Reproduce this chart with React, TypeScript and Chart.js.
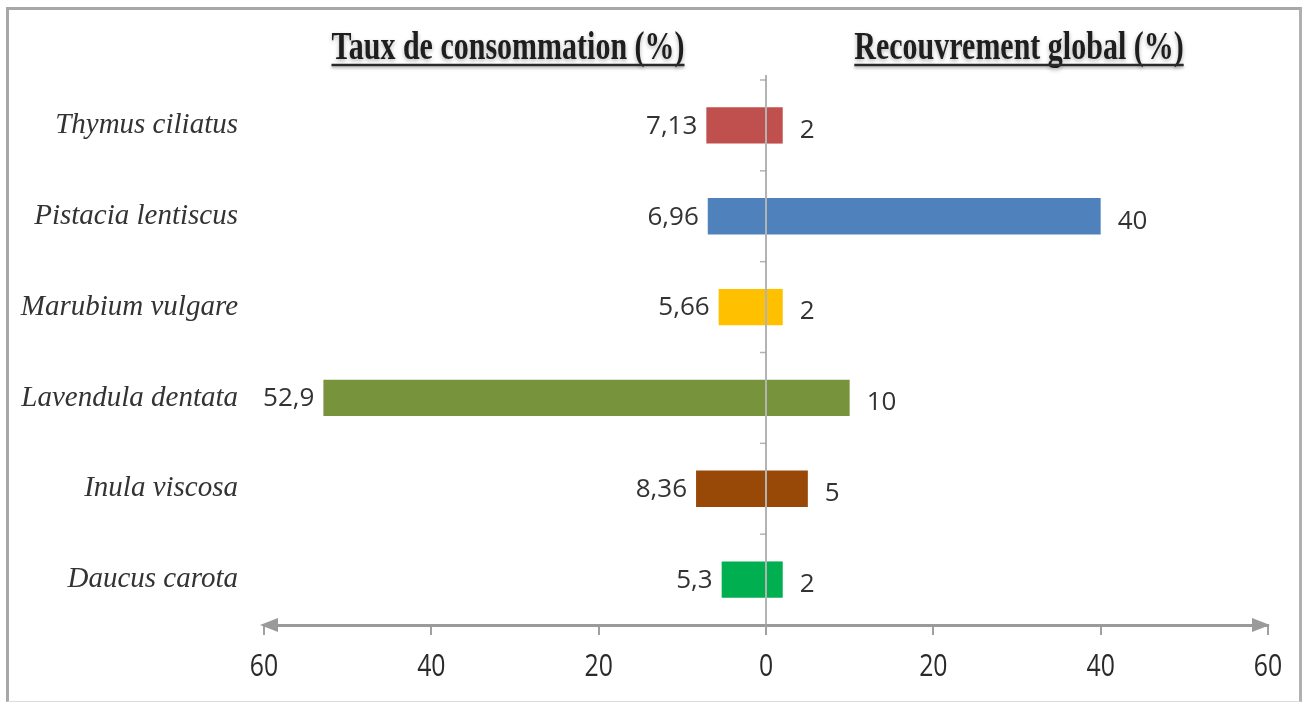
import React, { useEffect, useRef } from "react";
import { Chart, registerables } from "chart.js";
Chart.register(...registerables);

const categories = [
  "Thymus ciliatus",
  "Pistacia lentiscus",
  "Marubium vulgare",
  "Lavendula dentata",
  "Inula viscosa",
  "Daucus carota",
];
const consumption = [7.13, 6.96, 5.66, 52.9, 8.36, 5.3];
const coverage = [2, 40, 2, 10, 5, 2];
const barColors = ["#C0504D", "#4F81BD", "#FFC000", "#77933C", "#984807", "#00B050"];
const xTicks = [-60, -40, -20, 0, 20, 40, 60];
const titles = ["Taux de consommation (%)", "Recouvrement global (%)"];

const fmt = (v: number) => String(v).replace(".", ",");

const decorPlugin = {
  id: "decor",
  afterDraw(chart: any) {
    const ctx = chart.ctx as CanvasRenderingContext2D;
    const x = chart.scales.x;
    const y = chart.scales.y;
    const area = chart.chartArea;
    const yb = area.bottom;

    // arrowheads on x axis
    ctx.save();
    ctx.fillStyle = "#9a9a9a";
    ctx.beginPath();
    ctx.moveTo(x.left - 4, yb);
    ctx.lineTo(x.left + 14, yb - 7);
    ctx.lineTo(x.left + 14, yb + 7);
    ctx.closePath();
    ctx.fill();
    ctx.beginPath();
    ctx.moveTo(x.right + 2, yb);
    ctx.lineTo(x.right - 16, yb - 7);
    ctx.lineTo(x.right - 16, yb + 7);
    ctx.closePath();
    ctx.fill();
    ctx.restore();

    // x tick labels (narrow, tall digits)
    ctx.save();
    ctx.fillStyle = "#2a2a2a";
    ctx.font = '31px "Open Sans"';
    ctx.textAlign = "center";
    ctx.textBaseline = "alphabetic";
    x.ticks.forEach((t: any) => {
      const px = x.getPixelForValue(t.value);
      ctx.save();
      ctx.translate(px, 676);
      ctx.scale(0.8, 1);
      ctx.fillText(String(Math.abs(t.value)), 0, 0);
      ctx.restore();
    });
    ctx.restore();

    // center vertical axis
    const x0 = x.getPixelForValue(0);
    ctx.save();
    ctx.strokeStyle = "rgba(160,160,160,0.8)";
    ctx.lineWidth = 2;
    ctx.beginPath();
    ctx.moveTo(x0, area.top - 5);
    ctx.lineTo(x0, yb + 10);
    ctx.stroke();
    const n = categories.length;
    const half = (y.getPixelForValue(1) - y.getPixelForValue(0)) / 2;
    ctx.lineWidth = 1.5;
    for (let i = 0; i < n; i++) {
      const by = y.getPixelForValue(i) - half;
      ctx.beginPath();
      ctx.moveTo(x0 - 6, by);
      ctx.lineTo(x0, by);
      ctx.stroke();
    }
    ctx.restore();

    // value labels
    ctx.save();
    ctx.fillStyle = "#333";
    ctx.font = '26px "Open Sans"';
    ctx.textBaseline = "middle";
    const m0 = chart.getDatasetMeta(0);
    const m1 = chart.getDatasetMeta(1);
    m0.data.forEach((el: any, i: number) => {
      ctx.textAlign = "right";
      ctx.fillText(fmt(consumption[i]), el.x - 9, el.y + 1);
    });
    m1.data.forEach((el: any, i: number) => {
      ctx.textAlign = "left";
      ctx.fillText(fmt(coverage[i]), el.x + 17, el.y + 5);
    });
    ctx.restore();

    // titles
    const centers = [508, 1019];
    titles.forEach((t, i) => {
      ctx.save();
      ctx.font = 'bold 30px "Liberation Serif"';
      ctx.textAlign = "center";
      ctx.textBaseline = "alphabetic";
      const w = ctx.measureText(t).width;
      ctx.fillStyle = "#1e1e1e";
      ctx.shadowColor = "rgba(0,0,0,0.3)";
      ctx.shadowBlur = 4;
      ctx.shadowOffsetY = 2;
      ctx.translate(centers[i], 59);
      ctx.scale(1, 1.3);
      ctx.fillText(t, 0, 0);
      ctx.restore();
      ctx.save();
      ctx.strokeStyle = "#2a2a2a";
      ctx.lineWidth = 2.5;
      ctx.shadowColor = "rgba(0,0,0,0.3)";
      ctx.shadowBlur = 3;
      ctx.shadowOffsetY = 2;
      ctx.beginPath();
      ctx.moveTo(centers[i] - w / 2, 65);
      ctx.lineTo(centers[i] + w / 2, 65);
      ctx.stroke();
      ctx.restore();
    });
  },
};

export default function App() {
  const ref = useRef<HTMLCanvasElement | null>(null);
  useEffect(() => {
    if (!ref.current) return;
    const chart = new Chart(ref.current, {
      type: "bar",
      data: {
        labels: categories,
        datasets: [
          {
            label: "Taux de consommation (%)",
            data: consumption.map((v) => -v),
            backgroundColor: barColors,
            barPercentage: 0.4,
            categoryPercentage: 1,
          },
          {
            label: "Recouvrement global (%)",
            data: coverage,
            backgroundColor: barColors,
            barPercentage: 0.4,
            categoryPercentage: 1,
          },
        ],
      },
      options: {
        indexAxis: "y",
        responsive: false,
        animation: false,
        devicePixelRatio: 1,
        layout: { padding: { top: 80, right: 36, bottom: 0, left: 0 } },
        plugins: { legend: { display: false }, tooltip: { enabled: false } },
        scales: {
          x: {
            type: "linear",
            stacked: true,
            min: -60,
            max: 60,
            afterBuildTicks: (s: any) => {
              s.ticks = xTicks.map((v) => ({ value: v }));
            },
            afterFit: (s: any) => {
              s.height = 77;
            },
            ticks: {
              display: false,
              maxRotation: 0,
            },
            grid: {
              drawOnChartArea: false,
              drawTicks: true,
              tickLength: 10,
              color: "#a0a0a0",
              lineWidth: 2,
            },
            border: { display: true, color: "#9a9a9a", width: 3 },
          },
          y: {
            type: "category",
            stacked: true,
            afterFit: (s: any) => {
              s.width = 264;
            },
            ticks: {
              font: { family: '"Liberation Serif"', size: 29, style: "italic" },
              color: "#333",
              padding: 26,
            },
            grid: { display: false, drawTicks: false },
            border: { display: false },
          },
        },
      },
      plugins: [decorPlugin],
    } as any);
    return () => chart.destroy();
  }, []);

  return (
    <div style={{ position: "absolute", left: 0, top: 0, width: 1304, height: 702, background: "#fff" }}>
      <div
        style={{
          position: "absolute",
          left: 6,
          top: 7,
          width: 1296,
          height: 695,
          boxSizing: "border-box",
          borderTop: "3px solid #a8a8a8",
          borderLeft: "3px solid #a8a8a8",
          borderRight: "3px solid #b0b0b0",
          borderBottom: "1px solid #dcdcdc",
        }}
      />
      <canvas ref={ref} width={1304} height={702} style={{ position: "absolute", left: 0, top: 0 }} />
    </div>
  );
}
